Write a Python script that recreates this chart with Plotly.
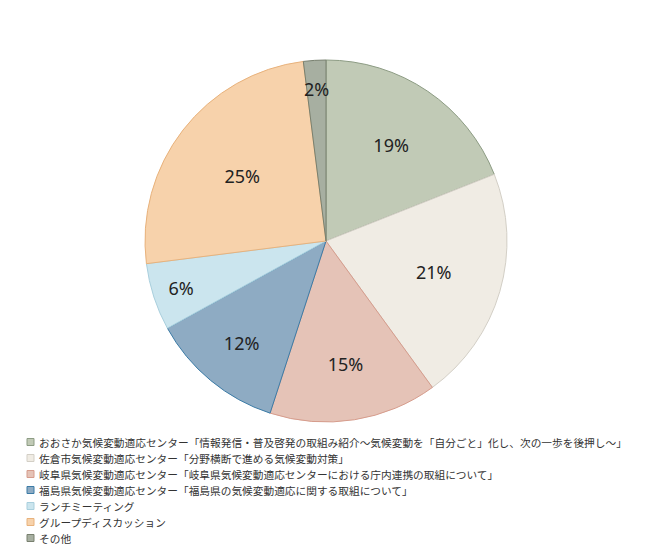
import plotly.graph_objects as go
import math

labels = [
    "おおさか気候変動適応センター「情報発信・普及啓発の取組み紹介～気候変動を「自分ごと」化し、次の一歩を後押し～」",
    "佐倉市気候変動適応センター「分野横断で進める気候変動対策」",
    "岐阜県気候変動適応センター「岐阜県気候変動適応センターにおける庁内連携の取組について」",
    "福島県気候変動適応センター「福島県の気候変動適応に関する取組について」",
    "ランチミーティング",
    "グループディスカッション",
    "その他",
]
values = [19, 21, 15, 12, 6, 25, 2]
fill_colors = ["#c1cab6", "#f0ece4", "#e5c3b7", "#8eabc3", "#cbe5ee", "#f7d2ab", "#a7afa1"]
line_colors = ["#8d9c84", "#d3cfc6", "#d69c8c", "#3b7ba6", "#a9cfdd", "#e8b27c", "#78806f"]

total = sum(values)
# slices whose label is too small to fit inside get a free-floating label
small = [v / total < 0.04 for v in values]
texttemplates = ["" if s else "%{percent:.0%}" for s in small]

W, H = 650, 545
cx, cy, R = 326, 241, 181

fig = go.Figure()
fig.add_trace(go.Pie(
    labels=labels,
    values=values,
    sort=False,
    direction="clockwise",
    rotation=0,
    marker=dict(colors=fill_colors, line=dict(color=line_colors, width=1)),
    texttemplate=texttemplates,
    textposition="inside",
    insidetextorientation="horizontal",
    textfont=dict(family="Noto Sans, Open Sans, sans-serif", size=18, color="#222222"),
    domain=dict(x=[(cx - R) / W, (cx + R) / W], y=[1 - (cy + R) / H, 1 - (cy - R) / H]),
    showlegend=False,
    hoverinfo="label+percent",
))

cum = 0
for v, s in zip(values, small):
    if s:
        mid = (cum + v / 2) / total * 2 * math.pi
        r = 0.84 * R
        px = cx + r * math.sin(mid)
        py = cy - r * math.cos(mid)
        fig.add_annotation(x=px / W, y=1 - py / H, xref="paper", yref="paper",
                           text=f"{round(v / total * 100)}%", showarrow=False,
                           xanchor="center", yanchor="middle",
                           font=dict(family="Noto Sans, Open Sans, sans-serif", size=18, color="#222222"))
    cum += v

# legend drawn as text rows below the pie
top_px = 442
step_px = 16
for i, (lab, fc, lc) in enumerate(zip(labels, fill_colors, line_colors)):
    yc = 1 - (top_px + i * step_px) / H
    fig.add_shape(type="rect", xref="paper", yref="paper",
                  x0=27 / W, x1=34 / W, y0=yc - 3.5 / H, y1=yc + 3.5 / H,
                  fillcolor=fc, line=dict(color=lc, width=1))
    fig.add_annotation(x=37 / W, y=yc, xref="paper", yref="paper",
                       text=lab, showarrow=False, xanchor="left", yanchor="middle",
                       font=dict(family="Noto Sans CJK JP", size=10.7, color="#333333"))

fig.update_layout(
    width=W, height=H,
    margin=dict(l=0, r=0, t=0, b=0),
    paper_bgcolor="white", plot_bgcolor="white",
)
fig.write_html("out.html", config={"displayModeBar": False},
               post_script="document.body.style.margin='0';")
